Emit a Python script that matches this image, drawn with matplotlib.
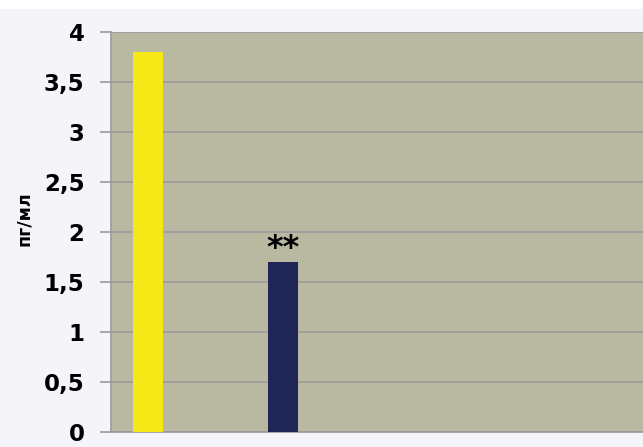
import matplotlib.pyplot as plt
from matplotlib.patches import Rectangle

# values
positions = [0, 1]
values = [3.8, 1.7]
colors = ['#f5e816', '#1f2656']
marks = ['', '**']
yticks = [0, 0.5, 1, 1.5, 2, 2.5, 3, 3.5, 4]
ytick_labels = ['0', '0,5', '1', '1,5', '2', '2,5', '3', '3,5', '4']

fig = plt.figure(figsize=(6.43, 4.47), dpi=100, facecolor='#f4f4f9')
# white strip along the top
fig.patches.append(Rectangle((0, 1 - 9 / 447), 1, 9 / 447, transform=fig.transFigure,
                             facecolor='white', edgecolor='none', zorder=0))

ax = fig.add_axes([111 / 643, 15 / 447, 1 - 111 / 643, 400 / 447])
ax.set_facecolor('#b9b9a1')

ax.bar(positions, values, width=0.222, color=colors, zorder=3)
for x, v, m in zip(positions, values, marks):
    if m:
        ax.text(x, v - 0.02, m, ha='center', va='bottom', fontsize=23,
                fontweight='heavy', color='black', zorder=4)

ax.set_ylim(0, 4)
ax.set_xlim(-0.274, 3.67)
ax.set_yticks(yticks)
ax.set_yticklabels(ytick_labels, fontsize=16.5, fontweight='bold')
ax.set_xticks([])
ax.grid(axis='y', color='#9a9a9a', linewidth=1.2, zorder=1)
ax.tick_params(axis='y', length=8, color='#9a9a9a', width=1.2, pad=11)

for side in ['top', 'right']:
    ax.spines[side].set_visible(False)
for side in ['left', 'bottom']:
    ax.spines[side].set_color('#9a9a9a')
    ax.spines[side].set_linewidth(1.2)

fig.text(24 / 643, 1 - 219 / 447, 'пг/мл', rotation=90, ha='center', va='center',
         fontsize=12.5, fontweight='bold')

fig.savefig('out.png', dpi=100, facecolor=fig.get_facecolor())
